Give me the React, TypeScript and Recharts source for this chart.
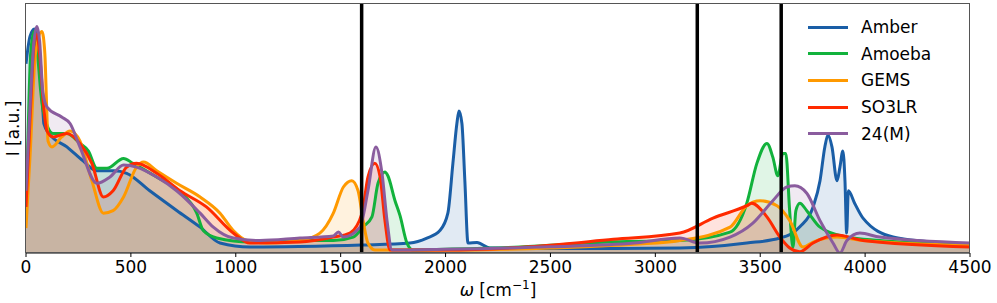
import React from 'react';
import { ComposedChart, Area, Line, XAxis, YAxis, ReferenceLine, Label } from 'recharts';

// wavenumber (cm^-1) and intensity (a.u., 0-100)
const amberWn = [0, 19, 40, 55, 68, 80, 85, 110, 195, 272, 338, 420, 480, 590, 720, 830, 925, 1068, 1300, 1600, 1830, 1911, 1973, 2011, 2035, 2054, 2064, 2078, 2092, 2107, 2150, 2211, 2500, 2800, 3117, 3436, 3594, 3689, 3752, 3785, 3808, 3823, 3842, 3866, 3880, 3894, 3904, 3912, 3920, 3950, 3990, 4133, 4300, 4500];
const amberI = [76, 87, 90, 88, 72, 58, 52, 48, 42.6, 37, 33, 33, 32, 25, 17, 10.4, 4, 2.4, 2.6, 3.2, 4, 6, 9, 16, 36, 52, 57, 52, 29, 4, 4.2, 2, 1.8, 1.8, 2, 4, 6, 10.5, 18.5, 29, 42.6, 47.4, 42.6, 29, 34.5, 41, 29, 8, 25, 20, 14, 6.4, 4.5, 3];

const amoebaWn = [0, 10, 22, 38, 55, 70, 82, 130, 195, 257, 297, 338, 386, 465, 510, 623, 734, 814, 845, 909, 1068, 1300, 1465, 1560, 1607, 1649, 1678, 1711, 1725, 1759, 1783, 1816, 1845, 2000, 2355, 2800, 3117, 3356, 3436, 3484, 3532, 3560, 3584, 3608, 3622, 3641, 3656, 3670, 3689, 3722, 3785, 3913, 4070, 4500];
const amoebaI = [15, 48, 80, 89, 80, 65, 57, 48, 48, 44, 41, 34, 34, 38, 36, 30.5, 24.5, 16, 9, 6, 4.4, 5, 5, 6.4, 10.5, 14.5, 28, 32.5, 31, 21, 15, 4, 1.2, 1.5, 2.4, 4.5, 5, 8.4, 20, 36, 44, 38.5, 31, 40, 40, 16, 2.4, 17, 20, 17, 10.4, 6.4, 5, 3.2];

const gemsWn = [0, 20, 45, 76, 90, 98, 105, 124, 170, 210, 257, 314, 369, 415, 465, 527, 560, 623, 718, 830, 925, 988, 1053, 1148, 1306, 1401, 1465, 1513, 1553, 1583, 1607, 1630, 1663, 2000, 2500, 2900, 3117, 3356, 3436, 3499, 3580, 3641, 3704, 3752, 3866, 3990, 4500];
const gemsI = [10, 40, 80, 89, 80, 60, 45, 42.6, 46.6, 49, 45, 29, 16, 17, 22.5, 34.5, 36.5, 33, 28, 22.5, 16, 9, 5, 4, 5, 8, 16, 26.5, 29, 25, 13, 4, 1.2, 1.2, 2, 3.5, 5, 10.4, 19, 21, 19, 13, 2.4, 4.4, 6.4, 5, 3];

const so3lrWn = [0, 20, 40, 52, 65, 85, 100, 130, 195, 257, 314, 369, 415, 480, 527, 623, 734, 860, 988, 1068, 1306, 1465, 1544, 1602, 1630, 1663, 1688, 1711, 1735, 2000, 2400, 2800, 3117, 3275, 3436, 3460, 3532, 3594, 3641, 3689, 3752, 3866, 3990, 4500];
const so3lrI = [18.5, 55, 85, 88, 80, 58, 49, 46.6, 48, 44, 36, 22.5, 25, 34.5, 36, 32, 25, 18.5, 8, 4, 4.4, 6.4, 8, 16, 30.5, 36, 30.5, 13, 1.2, 1.2, 2.5, 5.5, 8, 14, 19, 20, 14.5, 6.4, 2, 0.5, 4, 7.2, 5, 2.4];

const m24Wn = [0, 20, 38, 52, 65, 80, 100, 170, 210, 257, 338, 400, 465, 527, 623, 718, 830, 893, 988, 1115, 1306, 1465, 1489, 1513, 1592, 1630, 1668, 1697, 1721, 1745, 2000, 2500, 2900, 3117, 3212, 3356, 3465, 3560, 3627, 3665, 3722, 3785, 3847, 3880, 3913, 3975, 4070, 4500];
const m24I = [25, 60, 85, 91, 85, 65, 58.6, 54.6, 52, 42.6, 28, 30.5, 35.3, 34.5, 30.5, 25, 16, 10.4, 6, 5, 6, 6.8, 8.4, 6.4, 10.4, 25, 42.6, 32, 13, 1.2, 1.5, 2.5, 4, 6, 4, 6.4, 12, 21, 26.5, 27, 24, 13, 4, 0, 5, 8, 6.4, 4];

const names = ['Amber', 'Amoeba', 'GEMS', 'SO3LR', '24(M)'];
const colors = ['#1a5ea6', '#12b23c', '#ff9900', '#ff2a00', '#8a5c9e'];
const xTicks = [0, 500, 1000, 1500, 2000, 2500, 3000, 3500, 4000, 4500];
const markers = [1600, 3200, 3600];

const toRows = (wn: number[], inten: number[]) => wn.map((w, i) => ({ w, v: inten[i] }));

const series = [
  toRows(amberWn, amberI),
  toRows(amoebaWn, amoebaI),
  toRows(gemsWn, gemsI),
  toRows(so3lrWn, so3lrI),
  toRows(m24Wn, m24I),
];

const font = 'DejaVu Sans, sans-serif';

const XLabel = (props: any) => {
  const vb = props.viewBox;
  const cx = vb.x + vb.width / 2;
  return (
    <text x={cx} y={296} textAnchor="middle" fontFamily={font} fontSize={17} fill="#000">
      <tspan fontStyle="italic">ω</tspan>
      <tspan> [cm</tspan>
      <tspan dy={-7} fontSize={12}>−1</tspan>
      <tspan dy={7}>]</tspan>
    </text>
  );
};

export default function App() {
  return (
    <div style={{ position: 'absolute', left: 0, top: 0, width: 997, height: 303, background: '#fff' }}>
      <ComposedChart width={997} height={303} margin={{ top: 4, right: 27, left: 0, bottom: 0 }}>
        <XAxis
          dataKey="w"
          type="number"
          domain={[0, 4500]}
          ticks={xTicks}
          allowDataOverflow
          height={50}
          tickSize={4}
          tickMargin={4}
          stroke="#000"
          tick={{ fontFamily: font, fontSize: 17, fill: '#000' }}
        >
          <Label content={XLabel} />
        </XAxis>
        <YAxis
          type="number"
          domain={[0, 100]}
          allowDataOverflow
          width={26}
          tick={false}
          tickLine={false}
          axisLine={false}
        >
          <Label
            value="I [a.u.]"
            angle={-90}
            position="center"
            style={{ fontFamily: font, fontSize: 17, fill: '#000' }}
          />
        </YAxis>
        {series.map((d, i) => (
          <Area
            key={'f' + names[i]}
            data={d}
            dataKey="v"
            type="monotone"
            stroke="none"
            fill={colors[i]}
            fillOpacity={0.13}
            dot={false}
            activeDot={false}
            legendType="none"
            isAnimationActive={false}
          />
        ))}
        {series.map((d, i) => (
          <Line
            key={'l' + names[i]}
            data={d}
            dataKey="v"
            name={names[i]}
            type="monotone"
            stroke={colors[i]}
            strokeWidth={3}
            dot={false}
            activeDot={false}
            isAnimationActive={false}
          />
        ))}
        {markers.map((m) => (
          <ReferenceLine key={m} x={m} stroke="#000" strokeWidth={3.5} />
        ))}
      </ComposedChart>
      <div
        style={{
          position: 'absolute',
          left: 25,
          top: 3,
          width: 943,
          height: 248,
          border: '1.5px solid #555',
          pointerEvents: 'none',
        }}
      />
      {names.map((n, i) => (
        <div
          key={n}
          style={{
            position: 'absolute',
            left: 808,
            top: 17 + i * 26.7,
            height: 20,
            display: 'flex',
            alignItems: 'center',
            fontFamily: font,
            fontSize: 17,
            color: '#000',
          }}
        >
          <div style={{ width: 40, height: 3, background: colors[i], marginRight: 13 }} />
          <span>{n}</span>
        </div>
      ))}
    </div>
  );
}
